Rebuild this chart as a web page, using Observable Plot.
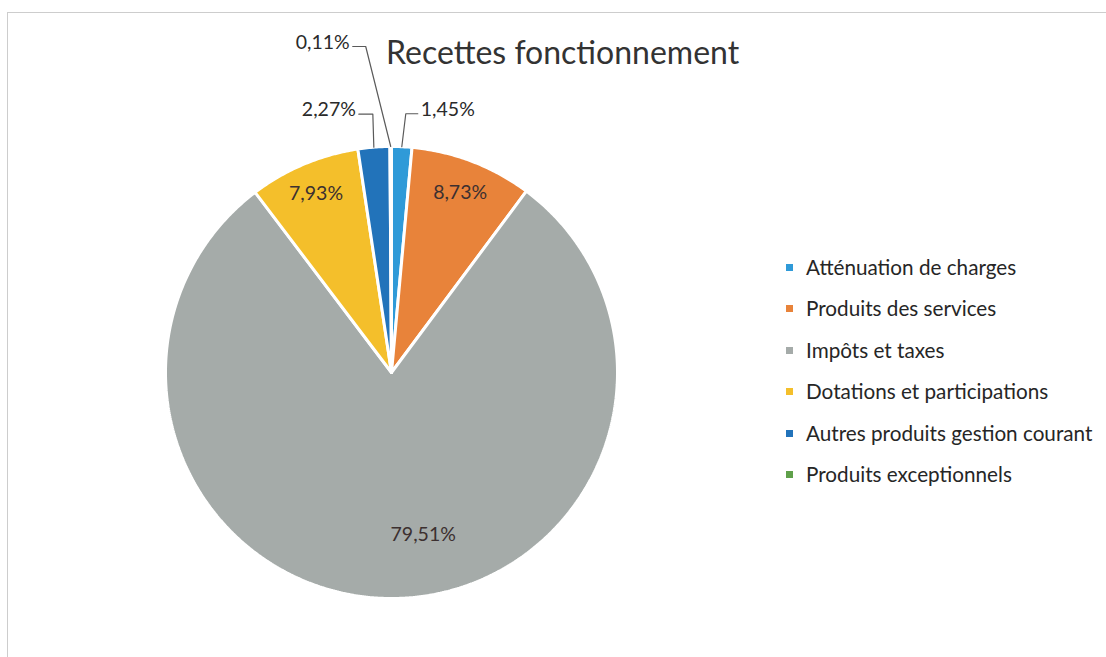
<!DOCTYPE html>
<html><head><meta charset="utf-8">
<script src="https://cdn.jsdelivr.net/npm/d3@7"></script>
<script src="https://cdn.jsdelivr.net/npm/@observablehq/plot@0.6"></script>
<style>
body{margin:0;background:#fff;font-family:Lato,"Open Sans",sans-serif;}
#wrap{position:relative;width:1106px;height:657px;overflow:hidden;background:#fff}
#frame{position:absolute;left:7px;top:12px;width:1200px;height:800px;border:1.5px solid #cdcdcd;box-sizing:border-box}
#chart{position:absolute;left:0;top:0}
#title{position:absolute;left:386px;top:36px;font-size:32px;line-height:32px;color:#333;white-space:nowrap}
#legend{position:absolute;left:786px;top:255px}
.item{height:41.4px;display:flex;align-items:flex-start;font-size:20.7px;line-height:24px;color:#262626;white-space:nowrap}
.sw{width:7px;height:7px;margin:9px 13px 0 0}
</style>
</head><body>
<div id="wrap"><div id="frame"></div><div id="chart"></div><div id="title"></div><div id="legend"></div></div>
<script>
const title = "Recettes fonctionnement";
const categories = ["Atténuation de charges","Produits des services","Impôts et taxes","Dotations et participations","Autres produits gestion courant","Produits exceptionnels"];
const values = [1.45, 8.73, 79.51, 7.93, 2.27, 0.11];
const valueLabels = ["1,45%","8,73%","79,51%","7,93%","2,27%","0,11%"];
const colors = ["#2f9ad8","#e8833a","#a5aba9","#f4bf2b","#2273ba","#5fa04a"];

// layout (pixels)
const cx = 391, cy = 372, R = 226;
const labelLayout = {
  "Produits des services": {inside: true, r: 0.85, dx: 0, dy: 0},
  "Impôts et taxes": {inside: true, r: 0.72, dx: 31, dy: 0},
  "Dotations et participations": {inside: true, r: 0.86, dx: 0, dy: 0},
  "Atténuation de charges": {inside: false, elbow: [4, -33], tail: 12},
  "Autres produits gestion courant": {inside: false, elbow: [-1, -33], tail: -14},
  "Produits exceptionnels": {inside: false, elbow: [-25, -100], tail: -13}
};

const total = d3.sum(values);
let acc = 0;
const slices = categories.map((c, i) => {
  const a0 = acc / total * 2 * Math.PI;
  acc += values[i];
  const a1 = acc / total * 2 * Math.PI;
  return {cat: c, a0, a1, mid: (a0 + a1) / 2, label: valueLabels[i], i};
});

const pts = [];
for (const s of slices) {
  pts.push({cat: s.cat, x: 0, y: 0});
  const n = Math.max(2, Math.ceil((s.a1 - s.a0) / (Math.PI / 360)));
  for (let k = 0; k <= n; k++) {
    const a = s.a0 + (s.a1 - s.a0) * k / n;
    pts.push({cat: s.cat, x: Math.sin(a), y: Math.cos(a)});
  }
  pts.push({cat: s.cat, x: 0, y: 0});
}

const inside = slices.filter(s => labelLayout[s.cat].inside).map(s => {
  const L = labelLayout[s.cat];
  return {label: s.label, x: L.r * Math.sin(s.mid) + L.dx / R, y: L.r * Math.cos(s.mid) - L.dy / R};
});

const leaders = [], outside = [];
for (const s of slices) {
  const L = labelLayout[s.cat];
  if (L.inside) continue;
  const ex = Math.sin(s.mid), ey = Math.cos(s.mid);
  const bx = ex + L.elbow[0] / R, by = ey - L.elbow[1] / R;
  const tx = bx + L.tail / R;
  leaders.push({cat: s.cat, x: ex, y: ey}, {cat: s.cat, x: bx, y: by}, {cat: s.cat, x: tx, y: by});
  outside.push({label: s.label, x: tx + Math.sign(L.tail) * 3 / R, y: by, anchor: L.tail > 0 ? "start" : "end"});
}

const fs = 19.5;
const plot = Plot.plot({
  width: 1106, height: 657,
  margin: 0,
  x: {domain: [-1, 1], range: [cx - R, cx + R], axis: null},
  y: {domain: [-1, 1], range: [cy + R, cy - R], axis: null},
  color: {domain: categories, range: colors},
  style: {background: "transparent", overflow: "visible"},
  marks: [
    Plot.line(pts, {x: "x", y: "y", z: "cat", fill: "cat", stroke: "white", strokeWidth: 3, strokeLinejoin: "miter", curve: "linear"}),
    Plot.text(inside, {x: "x", y: "y", text: "label", fontSize: fs, fill: "#3c3030", fontFamily: "Lato"}),
    Plot.line(leaders, {x: "x", y: "y", z: "cat", stroke: "#5a5a5a", strokeWidth: 1.2}),
    Plot.text(outside.filter(d => d.anchor === "start"), {x: "x", y: "y", text: "label", textAnchor: "start", dy: -4, fontSize: fs, fill: "#2a2a2a", fontFamily: "Lato"}),
    Plot.text(outside.filter(d => d.anchor === "end"), {x: "x", y: "y", text: "label", textAnchor: "end", dy: -4, fontSize: fs, fill: "#2a2a2a", fontFamily: "Lato"})
  ]
});
document.getElementById("chart").appendChild(plot);
document.getElementById("title").textContent = title;
const leg = document.getElementById("legend");
categories.forEach((c, i) => {
  const it = document.createElement("div"); it.className = "item";
  const sw = document.createElement("div"); sw.className = "sw"; sw.style.background = colors[i];
  const t = document.createElement("span"); t.textContent = c;
  it.appendChild(sw); it.appendChild(t); leg.appendChild(it);
});
</script>
</body></html>
